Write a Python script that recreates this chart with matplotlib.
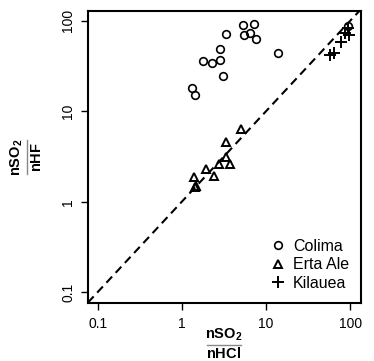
import matplotlib
matplotlib.use("Agg")
import matplotlib.pyplot as plt
from matplotlib.lines import Line2D

plt.rcParams['font.family'] = ['Liberation Sans', 'DejaVu Sans']
plt.rcParams['mathtext.fontset'] = 'custom'
plt.rcParams['mathtext.bf'] = 'Liberation Sans:bold'
plt.rcParams['mathtext.rm'] = 'Liberation Sans'

# data (x = nSO2/nHCl, y = nSO2/nHF)
colima_x = [1.32, 1.42, 1.78, 2.28, 2.84, 2.84, 3.05, 3.31, 5.32, 5.51, 6.38, 7.18, 7.65, 13.96, 93.9]
colima_y = [18.3, 15.2, 35.8, 34.3, 37.0, 49.0, 24.8, 71.3, 88.7, 70.0, 73.7, 91.9, 63.7, 44.3, 86.5]

erta_x = [1.40, 1.45, 1.47, 1.93, 2.39, 2.74, 3.37, 3.37, 3.70, 4.99]
erta_y = [1.90, 1.44, 1.50, 2.31, 1.93, 2.64, 4.59, 3.15, 2.64, 6.38]

kil_x = [57.4, 64.0, 77.5, 86.5, 96.6, 93.9]
kil_y = [42.1, 44.3, 58.6, 73.7, 70.0, 83.7]

ticks = [0.1, 1, 10, 100]
tick_labels = ['0.1', '1', '10', '100']

fig = plt.figure(figsize=(3.74, 3.61), dpi=100)
ax = fig.add_axes([0.235, 0.161, 0.730, 0.809])
ax.set_xscale('log')
ax.set_yscale('log')
ax.set_xlim(10**-1.115, 10**2.127)
ax.set_ylim(10**-1.118, 10**2.11)

# 1:1 line
ax.plot([0.01, 1000], [0.01, 1000], color='black', lw=1.5, linestyle=(0, (4, 2.5)))

ax.plot(colima_x, colima_y, 'o', ms=5.5, mfc='none', mec='black', mew=1.2, label='Colima')
ax.plot(erta_x, erta_y, '^', ms=6.2, mfc='none', mec='black', mew=1.4, label='Erta Ale')
ax.plot(kil_x, kil_y, '+', ms=8, mec='black', mew=1.4, label='Kilauea')

ax.set_xticks(ticks)
ax.set_xticklabels(tick_labels)
ax.set_yticks(ticks)
ax.set_yticklabels(tick_labels, rotation=90, va='center')
ax.minorticks_off()
ax.tick_params(axis='both', labelsize=10, length=5, width=1, direction='out', pad=5)
ax.tick_params(axis='y', pad=4)
for s in ax.spines.values():
    s.set_linewidth(1.5)

handles = [
    Line2D([], [], marker='o', ls='none', ms=5.5, mfc='none', mec='black', mew=1.2),
    Line2D([], [], marker='^', ls='none', ms=6.2, mfc='none', mec='black', mew=1.4),
    Line2D([], [], marker='+', ls='none', ms=8, mec='black', mew=1.4),
]
ax.legend(handles, ['Colima', 'Erta Ale', 'Kilauea'], loc='lower right', frameon=False,
          fontsize=11.5, handlelength=1.0, handletextpad=0.45, labelspacing=0.22,
          borderaxespad=0.35)

# x axis label as a fraction
fig.text(224 / 374, 1 - 335 / 361, r'$\mathbf{nSO_2}$', ha='center', va='center', fontsize=10.5)
fig.add_artist(Line2D([207 / 374, 241 / 374], [1 - 345 / 361] * 2, color='#888888', lw=1))
fig.text(224 / 374, 1 - 354 / 361, r'$\mathbf{nHCl}$', ha='center', va='center', fontsize=10.5)

# y axis label as a fraction
fig.text(17 / 374, 1 - 157 / 361, r'$\mathbf{nSO_2}$', ha='center', va='center', fontsize=10.5, rotation=90)
fig.add_artist(Line2D([27 / 374] * 2, [1 - 174 / 361, 1 - 140 / 361], color='#888888', lw=1))
fig.text(37 / 374, 1 - 157 / 361, r'$\mathbf{nHF}$', ha='center', va='center', fontsize=10.5, rotation=90)

fig.savefig('out.png', dpi=100)
